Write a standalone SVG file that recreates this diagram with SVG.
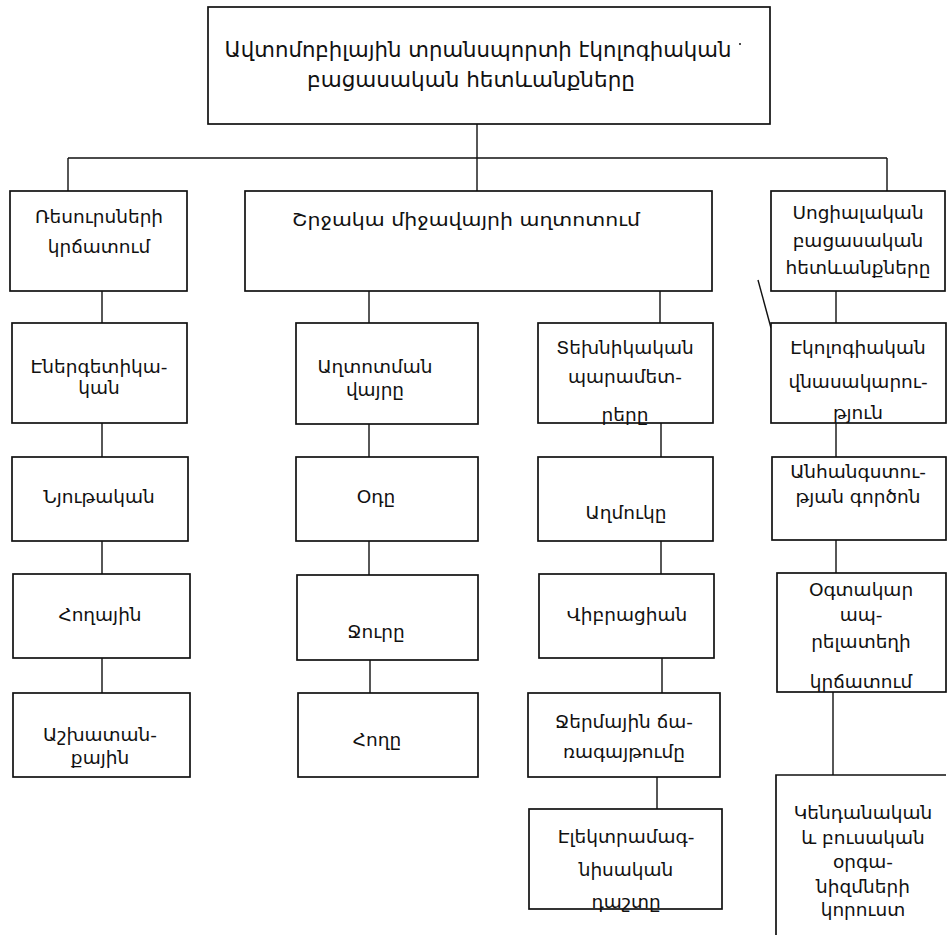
<svg xmlns="http://www.w3.org/2000/svg" width="947" height="940" viewBox="0 0 947 940">
<style>
.b{fill:#fff;stroke:#111;stroke-width:1.7}
.c{fill:none;stroke:#111;stroke-width:1.4}
text{font-family:"DejaVu Sans","Noto Sans",sans-serif;font-size:18.5px;fill:#111;text-anchor:middle}
.t{font-size:21px}
</style>
<rect width="947" height="940" fill="#fff"/>
<g id="connectors">
<path class="c" d="M477 124V191M68 158H887M68 158V191M887 158V191"/>
<path class="c" d="M102 291V323M102 423V457M102 541V574M102 658V693"/>
<path class="c" d="M369 291V323M369 424V457M369 541V575M370 660V693"/>
<path class="c" d="M660 291V323M661 423V457M661 541V574M662 658V693M657 777V809"/>
<path class="c" d="M836 291V323M836 423V457M836 540V573M833 692V775"/>
<path class="c" d="M758 280L771 328"/>
</g>
<g id="n_title"><rect class="b" x="208" y="7" width="562" height="117"/>
<text class="t" x="478" y="57" textLength="507" lengthAdjust="spacingAndGlyphs">Ավտոմոբիլային տրանսպորտի էկոլոգիական</text>
<text class="t" x="471" y="87" textLength="328" lengthAdjust="spacingAndGlyphs">բացասական հետևանքները</text>
<circle cx="740" cy="44" r="1" fill="#111"/></g>
<g id="n_res"><rect class="b" x="10" y="191" width="177" height="100"/>
<text x="99" y="223">Ռեսուրսների</text><text x="99" y="253">կրճատում</text></g>
<g id="n_env"><rect class="b" x="245" y="191" width="467" height="100"/>
<text x="466" y="226" textLength="348" lengthAdjust="spacingAndGlyphs">Շրջակա միջավայրի աղտոտում</text></g>
<g id="n_soc"><rect class="b" x="771" y="191" width="174" height="100"/>
<text x="858" y="219">Սոցիալական</text><text x="858" y="247">բացասական</text><text x="858" y="274">հետևանքները</text></g>
<g id="n_energ"><rect class="b" x="12" y="323" width="175" height="100"/>
<text x="99" y="373">Էներգետիկա-</text><text x="99" y="394">կան</text></g>
<g id="n_nyut"><rect class="b" x="12" y="457" width="176" height="84"/>
<text x="99" y="503">Նյութական</text></g>
<g id="n_hogh"><rect class="b" x="13" y="574" width="177" height="84"/>
<text x="100" y="621">Հողային</text></g>
<g id="n_ashkh"><rect class="b" x="13" y="693" width="177" height="84"/>
<text x="100" y="741">Աշխատան-</text><text x="100" y="764">քային</text></g>
<g id="n_vayr"><rect class="b" x="296" y="323" width="182" height="101"/>
<text x="375" y="373">Աղտոտման</text><text x="375" y="396">վայրը</text></g>
<g id="n_od"><rect class="b" x="296" y="457" width="182" height="84"/>
<text x="376" y="503">Օդը</text></g>
<g id="n_jur"><rect class="b" x="297" y="575" width="181" height="85"/>
<text x="376" y="638">Ջուրը</text></g>
<g id="n_hogh2"><rect class="b" x="298" y="693" width="180" height="84"/>
<text x="377" y="746">Հողը</text></g>
<g id="n_tekh"><rect class="b" x="538" y="323" width="175" height="100"/>
<text x="625" y="354">Տեխնիկական</text><text x="625" y="383">պարամետ-</text><text x="625" y="421">րերը</text></g>
<g id="n_aghm"><rect class="b" x="538" y="457" width="175" height="84"/>
<text x="626" y="519">Աղմուկը</text></g>
<g id="n_vibr"><rect class="b" x="539" y="574" width="175" height="84"/>
<text x="627" y="621">Վիբրացիան</text></g>
<g id="n_jerm"><rect class="b" x="528" y="693" width="192" height="84"/>
<text x="624" y="728">Ջերմային ճա-</text><text x="624" y="758">ռագայթումը</text></g>
<g id="n_elek"><rect class="b" x="529" y="809" width="193" height="100"/>
<text x="626" y="843">Էլեկտրամագ-</text><text x="626" y="876">նիսական</text><text x="626" y="908">դաշտը</text></g>
<g id="n_ekol"><rect class="b" x="771" y="323" width="175" height="100"/>
<text x="858" y="354">Էկոլոգիական</text><text x="858" y="388">վնասակարու-</text><text x="858" y="419">թյուն</text></g>
<g id="n_anh"><rect class="b" x="772" y="457" width="174" height="83"/>
<text x="858" y="478">Անհանգստու-</text><text x="858" y="503">թյան գործոն</text></g>
<g id="n_ogt"><rect class="b" x="777" y="573" width="169" height="119"/>
<text x="861" y="596">Օգտակար</text><text x="861" y="621">ապ-</text><text x="861" y="648">րելատեղի</text><text x="861" y="688">կրճատում</text></g>
<g id="n_kend"><path class="b" d="M776 935V775H946"/>
<text x="863" y="819">Կենդանական</text><text x="863" y="844">և բուսական</text><text x="863" y="868">օրգա-</text><text x="863" y="893">նիզմների</text><text x="863" y="916">կորուստ</text></g>
</svg>
